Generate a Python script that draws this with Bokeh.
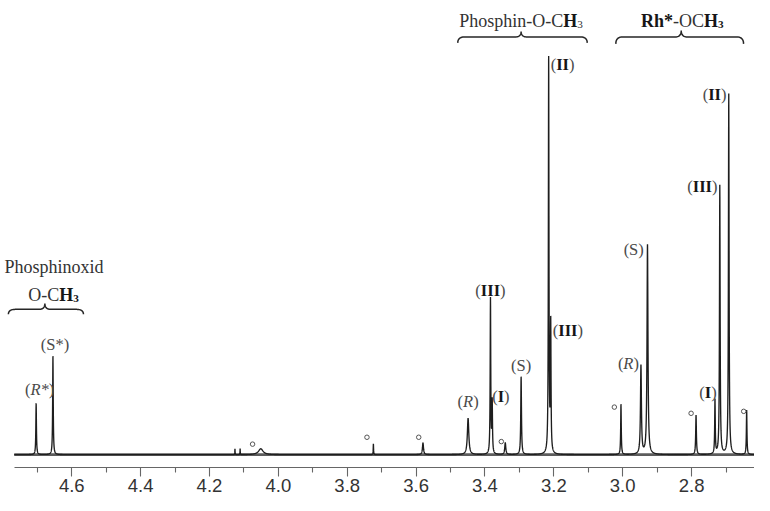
import numpy as np
from bokeh.plotting import figure
from bokeh.models import Range1d, FixedTicker, NumeralTickFormatter
from bokeh.core.properties import value
from bokeh.embed import file_html
from bokeh.resources import INLINE

# ---------------- data ----------------
peak_ppm = [4.7034, 4.6546, 4.126, 4.111, 4.051, 3.724, 3.580, 3.449, 3.384, 3.379, 3.341,
            3.295, 3.215, 3.209, 3.005, 2.947, 2.928, 2.787, 2.732, 2.718, 2.692, 2.640]
peak_height = [52, 100, 6, 6, 6, 11, 12, 37, 158, 52, 12,
               79, 401, 130, 51, 90, 213, 40, 55, 273, 366, 45]
peak_hwhm = [0.0010, 0.0010, 0.0004, 0.0004, 0.0080, 0.0006, 0.0018, 0.0025, 0.0010, 0.0010, 0.0018,
             0.0012, 0.0010, 0.0010, 0.0010, 0.0016, 0.0016, 0.0012, 0.0010, 0.0011, 0.0011, 0.0010]
spectrum_start, spectrum_end = 4.767, 2.617

major_ticks = [4.6, 4.4, 4.2, 4.0, 3.8, 3.6, 3.4, 3.2, 3.0, 2.8]
minor_ticks = [4.7, 4.5, 4.3, 4.1, 3.9, 3.7, 3.5, 3.3, 3.1, 2.9, 2.7]

# peak labels: (peak index, text segments, alignment, dx px, dy px)
peak_labels = [
    (0, [("(", "n"), ("R*", "i"), (")", "n")], "center", 3.5, -13.5),
    (1, [("(S*)", "n")], "center", 2, -11.5),
    (7, [("(", "n"), ("R", "i"), (")", "n")], "center", 0, -16.5),
    (8, [("(", "n"), ("III", "b"), (")", "n")], "center", 0, -8.5),
    (9, [("(", "n"), ("I", "b"), (")", "n")], "left", 0, -6.5),
    (11, [("(S)", "n")], "center", 0, -11.5),
    (13, [("(", "n"), ("III", "b"), (")", "n")], "left", 2, 4),
    (12, [("(", "n"), ("II", "b"), (")", "n")], "left", 2, 4.7),
    (16, [("(S)", "n")], "right", -3.7, 5),
    (15, [("(", "n"), ("R", "i"), (")", "n")], "right", -2, -3),
    (19, [("(", "n"), ("III", "b"), (")", "n")], "right", -2.3, 1),
    (20, [("(", "n"), ("II", "b"), (")", "n")], "right", -2.3, 0),
    (18, [("(", "n"), ("I", "b"), (")", "n")], "center", -7, -8.5),
]
# impurity marks (open circles): (peak index, dx px, dy px)
impurity_marks = [(4, -8.3, -4.7), (5, -6.5, -6.7), (6, -4.3, -5.7), (10, -4, -1.3),
                  (14, -6.7, 2.7), (17, -5, -2), (21, -3, 1)]

# group braces: ppm span and tip position
group_lo = [4.784, 3.479, 3.020]
group_hi = [4.566, 3.103, 2.649]
group_tip = [4.678, 3.295, 2.830]

# ---------------- geometry helpers (reference px space) ----------------
PX_PER_PPM = 348.0
X0_PX, X0_PPM = 80.0, 4.6
BASE_PX = 469.0


def px_to_ppm(xp):
    return X0_PPM - (xp - X0_PX) / PX_PER_PPM


def ppm_to_px(ppm):
    return X0_PX + (X0_PPM - ppm) * PX_PER_PPM


def py_to_int(yp):
    return BASE_PX - yp


# ---------------- figure ----------------
p = figure(width=754, height=495, output_backend="svg", toolbar_location=None,
           x_range=Range1d(px_to_ppm(8), px_to_ppm(770)),
           y_range=Range1d(py_to_int(482), py_to_int(8)),
           y_axis_location=None,
           min_border_left=0, min_border_right=0, min_border_top=0, min_border_bottom=28)
p.xgrid.visible = False
p.ygrid.visible = False
p.outline_line_color = None
p.background_fill_color = "white"
p.border_fill_color = "white"

ax = p.xaxis[0]
ax.ticker = FixedTicker(ticks=major_ticks, minor_ticks=minor_ticks)
ax.formatter = NumeralTickFormatter(format="0.0")
ax.bounds = (spectrum_end, spectrum_start)
ax.axis_line_color = "#666666"
ax.axis_line_width = 1.1
ax.major_tick_line_color = "#666666"
ax.minor_tick_line_color = "#666666"
ax.major_tick_line_width = 1.1
ax.minor_tick_line_width = 1.1
ax.major_tick_in = 0
ax.major_tick_out = 9
ax.minor_tick_in = 0
ax.minor_tick_out = 5
ax.major_label_standoff = 2
ax.major_label_text_font = "Liberation Sans"
ax.major_label_text_font_size = "18.5px"
ax.major_label_text_color = "#333333"

# ---------------- spectrum ----------------
x = np.union1d(np.linspace(spectrum_end, spectrum_start, 7000), np.array(peak_ppm))
y = np.zeros_like(x)
for c, h, g in zip(peak_ppm, peak_height, peak_hwhm):
    y += h * g * g / ((x - c) ** 2 + g * g)

# baseline noise band (visual thickness of the noisy baseline)
p.line(x=[spectrum_start, spectrum_end], y=[0, 0], line_color="#333333", line_width=2.8, line_alpha=0.8)
p.line(x=x, y=y, line_color="#1e1e1e", line_width=1.35)

# ---------------- rich text helper ----------------
W_REG = {'(': 333, ')': 333, '*': 500, '-': 333, '3': 500, 'C': 667, 'H': 722, 'O': 722, 'P': 556,
         'R': 667, 'S': 556, 'd': 500, 'h': 500, 'i': 278, 'n': 500, 'o': 500, 'p': 500, 's': 389, 'x': 500}
W_BOLD = {'(': 333, ')': 333, '*': 500, '-': 333, '3': 500, 'C': 722, 'H': 778, 'I': 389, 'O': 778,
          'R': 722, 'h': 556}
W_IT = {'(': 333, ')': 333, '*': 500, 'R': 611, 'S': 500}

GRAY = "#4a4a4a"
BLACK = "#161616"
SERIF = value("Liberation Serif")


def seg_width(t, st, size):
    tab = W_BOLD if st.startswith("b") else (W_IT if st == "i" else W_REG)
    fs = size * 0.62 if "sub" in st else size
    return sum(tab.get(ch, 500) for ch in t) / 1000.0 * fs


def draw_rich(xd, yd, segs, size, align, dx, dy, baseline, color_n=GRAY):
    widths = [seg_width(t, st, size) for t, st in segs]
    total = sum(widths)
    if align == "center":
        off = dx - total / 2
    elif align == "right":
        off = dx - total
    else:
        off = dx
    for (t, st), w in zip(segs, widths):
        sub = "sub" in st
        fs = size * 0.62 if sub else size
        style = "bold" if st.startswith("b") else ("italic" if st == "i" else "normal")
        color = BLACK if st.startswith("b") else color_n
        p.text(x=[xd], y=[yd], text=[t], x_offset=off, y_offset=dy + (size * 0.2 if sub else 0),
               text_align="left", text_baseline=baseline, text_font=SERIF,
               text_font_size=f"{fs:.1f}px", text_font_style=style, text_color=color)
        off += w


# peak labels
for idx, segs, align, dx, dy in peak_labels:
    draw_rich(peak_ppm[idx], peak_height[idx], segs, 16.5, align, dx, dy, "middle")

# impurity circles
cx = [peak_ppm[i] - dx / PX_PER_PPM for i, dx, dy in impurity_marks]
cy = [peak_height[i] - dy for i, dx, dy in impurity_marks]
p.scatter(x=cx, y=cy, marker="circle", size=4.5, fill_color=None, line_color="#555555", line_width=1.0)


# ---------------- braces ----------------
def quad(p0, p1, p2, n=14):
    t = np.linspace(0, 1, n)
    xs = (1 - t) ** 2 * p0[0] + 2 * (1 - t) * t * p1[0] + t ** 2 * p2[0]
    ys = (1 - t) ** 2 * p0[1] + 2 * (1 - t) * t * p1[1] + t ** 2 * p2[1]
    return list(xs), list(ys)


def brace(lo, hi, tip, y_tip, y_h, y_end, r=7, r2=6):
    x1, x2, xm = ppm_to_px(lo), ppm_to_px(hi), ppm_to_px(tip)
    X, Y = [], []
    for seg in (quad((x1, y_end), (x1, y_h), (x1 + r, y_h)),
                quad((xm - r2, y_h), (xm, y_h), (xm, y_tip)),
                quad((xm, y_tip), (xm, y_h), (xm + r2, y_h)),
                quad((x2 - r, y_h), (x2, y_h), (x2, y_end))):
        X += seg[0]
        Y += seg[1]
    p.line(x=[px_to_ppm(v) for v in X], y=[py_to_int(v) for v in Y],
           line_color="#262626", line_width=1.5)


brace_y = [(315.5, 321.5, 326.5), (39.5, 45, 51), (38.5, 45, 52)]
for lo, hi, tip, (yt, yh, ye) in zip(group_lo, group_hi, group_tip, brace_y):
    brace(lo, hi, tip, yt, yh, ye)

# ---------------- group headers ----------------
HEAD = 18
draw_rich(px_to_ppm(62), py_to_int(278.5), [("Phosphinoxid", "n")], HEAD, "center", 0, 0, "alphabetic", "#333333")
draw_rich(px_to_ppm(61.7), py_to_int(307), [("O-C", "n"), ("H", "b"), ("3", "bsub")], HEAD, "center", 0, 0,
          "alphabetic", "#333333")
draw_rich(px_to_ppm(534), py_to_int(28.3), [("Phosphin-O-C", "n"), ("H", "b"), ("3", "sub")], HEAD, "center", 0, 0,
          "alphabetic", "#333333")
draw_rich(px_to_ppm(697), py_to_int(28.5), [("Rh*", "b"), ("-OC", "n"), ("H", "b"), ("3", "bsub")], HEAD, "center",
          0, 0, "alphabetic", "#333333")

open("out.html", "w").write(file_html(p, INLINE))
